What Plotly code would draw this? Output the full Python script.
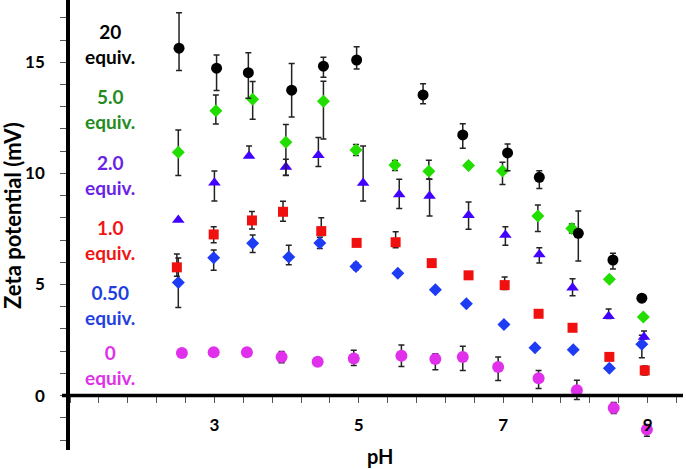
import plotly.graph_objects as go

FONT = "Lato"

ph20 = [2.51, 3.03, 3.47, 4.07, 4.51, 4.97, 5.89, 6.44, 7.06, 7.50, 8.04, 8.52, 8.92]
z20 = [15.63, 14.73, 14.53, 13.74, 14.82, 15.10, 13.53, 11.73, 10.92, 9.82, 7.30, 6.10, 4.38]
e20p = [1.6, 0.6, 0.9, 1.2, 0.4, 0.6, 0.5, 0.5, 0.4, 0.3, 1.0, 0.3, 0]
e20m = [1.0, 1.0, 1.15, 1.2, 0.5, 0.4, 0.4, 0.6, 0.8, 0.5, 1.25, 0.4, 0]

ph5 = [2.50, 3.02, 3.53, 3.99, 4.51, 4.96, 5.50, 5.97, 6.52, 6.99, 7.48, 7.95, 8.47, 8.94]
z5 = [10.95, 12.82, 13.33, 11.40, 13.24, 11.05, 10.38, 10.09, 10.35, 10.10, 8.08, 7.52, 5.23, 3.54]
e5p = [1.0, 0.7, 0.8, 0.8, 0.9, 0.25, 0.2, 0.5, 0.1, 0.4, 0.5, 0.2, 0.1, 0]
e5m = [1.05, 0.6, 0.9, 1.5, 1.7, 0.25, 0.25, 0.35, 0.1, 0.6, 0.7, 0.2, 0.1, 0]

ph2 = [2.50, 3.00, 3.48, 3.99, 4.44, 5.06, 5.56, 5.98, 6.52, 7.03, 7.50, 7.96, 8.46, 8.95]
z2 = [7.90, 9.58, 10.78, 10.28, 10.81, 9.56, 9.05, 8.98, 8.11, 7.22, 6.35, 4.85, 3.57, 2.64]
e2p = [0, 0.52, 0.45, 0.35, 0.8, 1.67, 0.68, 0.75, 0.6, 0.38, 0.3, 0.41, 0.33, 0.26]
e2m = [0, 0.83, 0, 0.37, 0.5, 0.8, 0.63, 0.9, 0.63, 0.46, 0.39, 0.36, 0.1, 0.1]

ph1 = [2.48, 2.99, 3.52, 3.95, 4.48, 4.97, 5.51, 6.01, 6.52, 7.02, 7.49, 7.96, 8.47, 8.96]
z1 = [5.77, 7.25, 7.88, 8.27, 7.40, 6.87, 6.90, 5.96, 5.41, 4.97, 3.68, 3.05, 1.74, 1.13]
e1p = [0.6, 0.35, 0.4, 0.47, 0.6, 0, 0.47, 0, 0, 0.36, 0, 0, 0, 0.2]
e1m = [0.4, 0.37, 0.38, 0.43, 0.2, 0, 0.25, 0, 0, 0.2, 0, 0, 0, 0.2]

ph05 = [2.50, 2.99, 3.53, 4.03, 4.46, 4.96, 5.54, 6.06, 6.49, 7.01, 7.44, 7.97, 8.47, 8.92]
z05 = [5.09, 6.20, 6.85, 6.23, 6.87, 5.81, 5.50, 4.76, 4.13, 3.20, 2.15, 2.06, 1.23, 2.31]
e05p = [1.1, 0.35, 0.38, 0.53, 0.25, 0.15, 0, 0, 0, 0, 0, 0, 0, 0.4]
e05m = [1.13, 0.56, 0.41, 0.34, 0.25, 0.15, 0, 0, 0, 0, 0, 0, 0, 0.61]

ph0 = [2.55, 2.99, 3.45, 3.93, 4.43, 4.93, 5.59, 6.06, 6.44, 6.93, 7.49, 8.02, 8.53, 8.99]
z0 = [1.91, 1.95, 1.95, 1.73, 1.52, 1.67, 1.79, 1.64, 1.73, 1.29, 0.78, 0.24, -0.56, -1.53]
e0p = [0, 0, 0.1, 0.25, 0, 0.37, 0.48, 0.24, 0.49, 0.44, 0.35, 0.45, 0.25, 0.2]
e0m = [0, 0, 0.1, 0.25, 0, 0.32, 0.48, 0.48, 0.6, 0.61, 0.46, 0.42, 0.25, 0.3]

series_labels = ["20<br>equiv.", "5.0<br>equiv.", "2.0<br>equiv.", "1.0<br>equiv.", "0.50<br>equiv.", "0<br>equiv."]
label_colors = ["#000000", "#238c1e", "#6a22e6", "#f01414", "#1f3fe0", "#e030e8"]
label_y = [15.8, 12.9, 9.93, 6.98, 4.08, 1.37]

x_tickvals = [3, 5, 7, 9]
y_tickvals = [0, 5, 10, 15]

fig = go.Figure()

def add(x, y, ep, em, symbol, color, size):
    fig.add_trace(go.Scatter(
        x=x, y=y, mode="markers",
        marker=dict(symbol=symbol, color=color, size=size, line=dict(width=0)),
        error_y=dict(type="data", symmetric=False, array=ep, arrayminus=em,
                     color="#222222", thickness=1.5, width=3),
        showlegend=False,
    ))

add(ph0, z0, e0p, e0m, "circle", "#e030ec", 12)
add(ph05, z05, e05p, e05m, "diamond", "#1f3cf5", 10)
add(ph1, z1, e1p, e1m, "square", "#f01010", 10)
add(ph2, z2, e2p, e2m, "triangle-up", "#4200ff", 11)
add(ph5, z5, e5p, e5m, "diamond", "#22dd00", 10)
add(ph20, z20, e20p, e20m, "circle", "#000000", 11)

for txt, col, yv in zip(series_labels, label_colors, label_y):
    fig.add_annotation(x=1.55, y=yv, xref="x", yref="y", text="<b>" + txt + "</b>",
                       showarrow=False, font=dict(family=FONT, size=19, color=col),
                       align="center")

ymin, ymax = -2.45, 17.8

fig.add_shape(type="line", xref="paper", yref="y", x0=-0.013, x1=1.0, y0=0, y1=0,
              line=dict(color="black", width=3.5))

fig.add_annotation(x=(12 - 70) / 613, y=(450 - 216) / 450, xref="paper", yref="paper",
                   text="<b>Zeta potential (mV)</b>", textangle=-90, showarrow=False,
                   font=dict(family=FONT, size=22, color="black"),
                   xanchor="center", yanchor="middle")
fig.add_annotation(x=(380 - 70) / 613, y=-6 / 450, xref="paper", yref="paper",
                   text="<b>pH</b>", showarrow=False, yanchor="middle",
                   font=dict(family=FONT, size=20, color="black"))

fig.update_layout(
    width=686, height=469,
    margin=dict(l=70, r=3, t=0, b=19, autoexpand=False),
    plot_bgcolor="white", paper_bgcolor="white",
    xaxis=dict(range=[1, 9.49], showgrid=False, zeroline=False, showline=False,
               automargin=False,
               tickvals=x_tickvals, ticktext=[f"<b>{v}</b>" for v in x_tickvals],
               ticks="outside", ticklen=6, tickwidth=1, tickcolor="#555555",
               minor=dict(tick0=1, dtick=0.4, ticks="outside", ticklen=6, tickcolor="#555555"),
               anchor="free", position=(0 - ymin) / (ymax - ymin),
               ticklabelstandoff=8,
               tickfont=dict(family=FONT, size=17, color="black")),
    yaxis=dict(range=[ymin, ymax], showgrid=False, zeroline=False,
               automargin=False,
               showline=True, linecolor="black", linewidth=3.5,
               tickvals=y_tickvals, ticktext=[f"<b>{v}</b>" for v in y_tickvals],
               ticks="outside", ticklen=6, tickwidth=1, tickcolor="#555555",
               minor=dict(dtick=1, tick0=0, ticks="outside", ticklen=6, tickcolor="#555555"),
               ticklabelstandoff=12,
               tickfont=dict(family=FONT, size=17, color="black")),
)

fig.write_html("out.html", config={"displayModeBar": False},
               post_script="document.body.style.margin='0';document.body.style.overflow='hidden';")
